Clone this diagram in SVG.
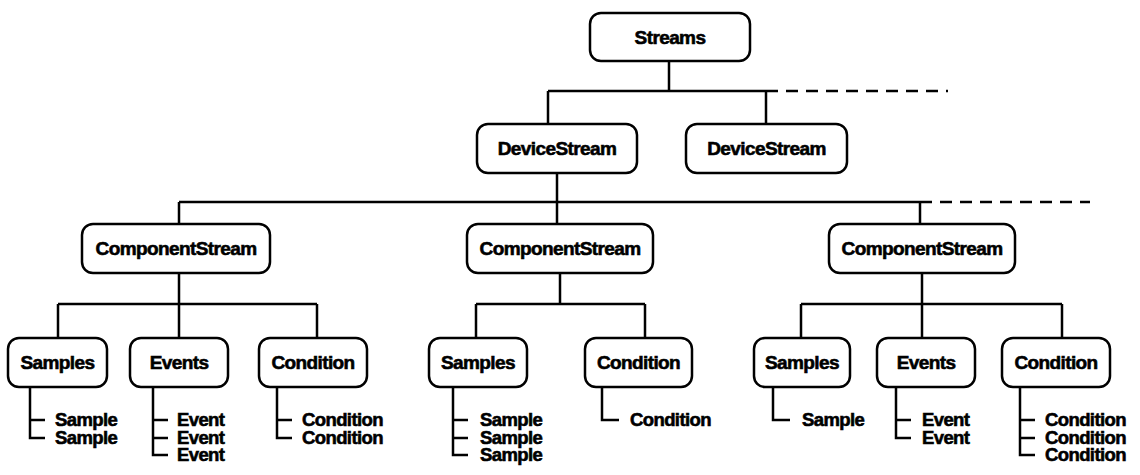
<svg xmlns="http://www.w3.org/2000/svg" width="1140" height="475" viewBox="0 0 1140 475">
<style>
.box{fill:#fff;stroke:#000;stroke-width:2.5}
.ln{fill:none;stroke:#000;stroke-width:2.5}
.dash{fill:none;stroke:#000;stroke-width:2.5;stroke-dasharray:12 8}
.lbl{font-family:"Liberation Sans",Arial,sans-serif;font-weight:bold;font-size:19px;text-anchor:middle;dominant-baseline:central;letter-spacing:-0.6px;stroke:#000;stroke-width:0.6}
.item{font-family:"Liberation Sans",Arial,sans-serif;font-weight:bold;font-size:18.5px;letter-spacing:-0.6px;stroke:#000;stroke-width:0.6}
</style>
<rect width="1140" height="475" fill="#fff"/>
<g id="connectors">
<path class="ln" d="M669 61V91M548 91H766M548 91V124M766 91V124"/>
<path class="dash" d="M766 91H948"/>
<path class="ln" d="M557 173V202M179 202H920M179 202V224M557 202V224M920 202V224"/>
<path class="dash" d="M920 202H1090"/>
<path class="ln" d="M179 273V304M58 304H317M58 304V338M179 304V338M317 304V338"/>
<path class="ln" d="M560 273V304M476 304H645M476 304V338M645 304V338"/>
<path class="ln" d="M922 273V304M801 304H1062M801 304V338M922 304V338M1062 304V338"/>
<path class="ln" d="M30 387V438H45M30 420H45"/>
<path class="ln" d="M153 387V455H168M153 420H168M153 438H168"/>
<path class="ln" d="M277 387V438H292M277 420H292"/>
<path class="ln" d="M453 387V455H468M453 420H468M453 438H468"/>
<path class="ln" d="M602 387V420H619"/>
<path class="ln" d="M773 387V420H790"/>
<path class="ln" d="M896 387V438H911M896 420H911"/>
<path class="ln" d="M1020 387V455H1035M1020 420H1035M1020 438H1035"/>
</g>
<g id="streams"><rect class="box" x="590" y="13" width="160" height="48" rx="11"/><text class="lbl" x="670" y="37">Streams</text></g>
<g id="devicestream1"><rect class="box" x="477" y="124" width="160" height="49" rx="11"/><text class="lbl" x="557" y="148.5">DeviceStream</text></g>
<g id="devicestream2"><rect class="box" x="686" y="124" width="161" height="49" rx="11"/><text class="lbl" x="766.5" y="148.5">DeviceStream</text></g>
<g id="componentstream1"><rect class="box" x="82" y="224" width="188" height="49" rx="11"/><text class="lbl" x="176" y="248.5">ComponentStream</text></g>
<g id="componentstream2"><rect class="box" x="467" y="224" width="186" height="49" rx="11"/><text class="lbl" x="560" y="248.5">ComponentStream</text></g>
<g id="componentstream3"><rect class="box" x="829" y="224" width="186" height="49" rx="11"/><text class="lbl" x="922" y="248.5">ComponentStream</text></g>
<g id="samples1"><rect class="box" x="8" y="338" width="99" height="49" rx="11"/><text class="lbl" x="57.5" y="362.5">Samples</text>
<text class="item" x="55" y="426">Sample</text><text class="item" x="55" y="444">Sample</text></g>
<g id="events1"><rect class="box" x="130" y="338" width="98" height="49" rx="11"/><text class="lbl" x="179" y="362.5">Events</text>
<text class="item" x="177" y="426">Event</text><text class="item" x="177" y="444">Event</text><text class="item" x="177" y="461">Event</text></g>
<g id="condition1"><rect class="box" x="259" y="338" width="108" height="49" rx="11"/><text class="lbl" x="313" y="362.5">Condition</text>
<text class="item" x="302" y="426">Condition</text><text class="item" x="302" y="444">Condition</text></g>
<g id="samples2"><rect class="box" x="429" y="338" width="98" height="49" rx="11"/><text class="lbl" x="478" y="362.5">Samples</text>
<text class="item" x="480" y="426">Sample</text><text class="item" x="480" y="444">Sample</text><text class="item" x="480" y="461">Sample</text></g>
<g id="condition2"><rect class="box" x="585" y="338" width="107" height="49" rx="11"/><text class="lbl" x="638.5" y="362.5">Condition</text>
<text class="item" x="630" y="426">Condition</text></g>
<g id="samples3"><rect class="box" x="754" y="338" width="96" height="49" rx="11"/><text class="lbl" x="802" y="362.5">Samples</text>
<text class="item" x="802" y="426">Sample</text></g>
<g id="events3"><rect class="box" x="877" y="338" width="98" height="49" rx="11"/><text class="lbl" x="926" y="362.5">Events</text>
<text class="item" x="922" y="426">Event</text><text class="item" x="922" y="444">Event</text></g>
<g id="condition3"><rect class="box" x="1002" y="338" width="108" height="49" rx="11"/><text class="lbl" x="1056" y="362.5">Condition</text>
<text class="item" x="1045" y="426">Condition</text><text class="item" x="1045" y="444">Condition</text><text class="item" x="1045" y="461">Condition</text></g>
</svg>
